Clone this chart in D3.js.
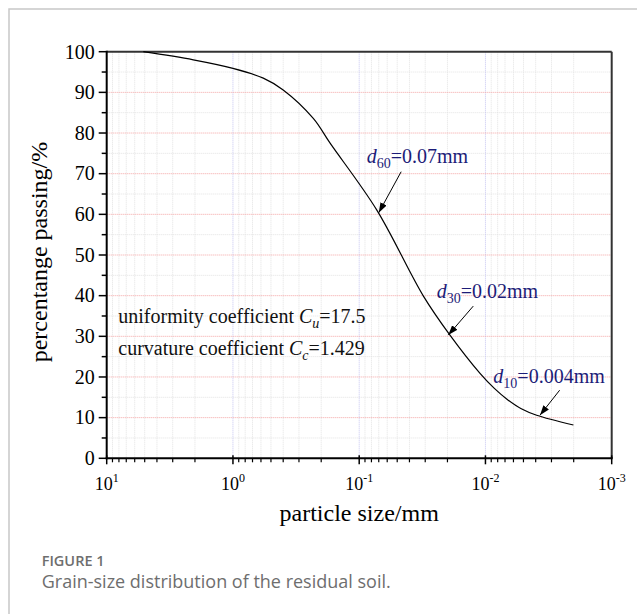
<!DOCTYPE html>
<html>
<head>
  <script src="https://d3js.org/d3.v7.min.js"></script>
  <style>
    body { margin: 0; background: #fff; }
  </style>
</head>
<body>
<div id="chart"></div>
<script>
// grain size curve
const sizes   = [5.13, 2.06, 1.0, 0.575, 0.40, 0.231, 0.170, 0.0727, 0.031, 0.0191, 0.01104, 0.0085, 0.00679, 0.0052, 0.00393, 0.00201];
const passing = [100, 98.0, 95.9, 93.5, 90.6, 83.6, 77.5, 61.1, 39.9, 30.3, 20.9, 17.2, 14.6, 12.2, 10.6, 8.2];

const xTicks = [10, 1, 0.1, 0.01, 0.001];
const xExps = ["1", "0", "-1", "-2", "-3"];
const yTicks = [0, 10, 20, 30, 40, 50, 60, 70, 80, 90, 100];

// characteristic sizes marked with arrows
const markSub   = ["60", "30", "10"];
const markText  = ["=0.07mm", "=0.02mm", "=0.004mm"];
const markSize  = [0.07, 0.0197, 0.0037];
const markPass  = [60.4, 30.3, 10.6];

const coefText = ["uniformity coefficient ", "curvature coefficient "];
const coefSub  = ["u", "c"];
const coefVal  = ["=17.5", "=1.429"];

var SERIF = "'Liberation Serif', 'Times New Roman', Times, serif";
var W = 637, H = 614;
var margin = { top: 51.7, left: 106.7, right: 25.3, bottom: 155.7 };
var width = W - margin.left - margin.right,
    height = H - margin.top - margin.bottom;

var root = d3.select("#chart").append("svg")
  .attr("width", W).attr("height", H)
  .attr("font-family", SERIF);

// page frame
root.append("path")
  .attr("d", "M9,614 V9 H637")
  .attr("fill", "none").attr("stroke", "#c8c8c8").attr("stroke-width", 1.5);

var svg = root.append("g")
  .attr("transform", "translate(" + margin.left + "," + margin.top + ")");

var x = d3.scaleLog().domain([10, 0.001]).range([0, width]);
var y = d3.scaleLinear().domain([0, 100]).range([height, 0]);

// minor grid
var minorX = [];
[1, 0.1, 0.01, 0.001].forEach(function(dec) {
  for (var k = 2; k <= 9; k++) minorX.push(dec * k);
});
svg.append("g").selectAll("line").data(minorX).join("line")
  .attr("x1", d => x(d)).attr("x2", d => x(d))
  .attr("y1", 0).attr("y2", height)
  .attr("stroke", "#e2e2e2").attr("stroke-width", 1).attr("stroke-dasharray", "1,1");

svg.append("g").selectAll("line").data(d3.range(5, 100, 10)).join("line")
  .attr("x1", 0).attr("x2", width)
  .attr("y1", d => y(d)).attr("y2", d => y(d))
  .attr("stroke", "#e2e2e2").attr("stroke-width", 1).attr("stroke-dasharray", "1,1");

// major grid
svg.append("g").selectAll("line").data([1, 0.1, 0.01]).join("line")
  .attr("x1", d => x(d)).attr("x2", d => x(d))
  .attr("y1", 0).attr("y2", height)
  .attr("stroke", "#c4c4f0").attr("stroke-width", 1).attr("stroke-dasharray", "1,1");

svg.append("g").selectAll("line").data(d3.range(10, 100, 10)).join("line")
  .attr("x1", 0).attr("x2", width)
  .attr("y1", d => y(d)).attr("y2", d => y(d))
  .attr("stroke", "#f4a4a4").attr("stroke-width", 1).attr("stroke-dasharray", "1,1");

// frame top/right
svg.append("line").attr("x1", 0).attr("x2", width).attr("y1", 0).attr("y2", 0)
  .attr("stroke", "#333").attr("stroke-width", 2);
svg.append("line").attr("x1", width).attr("x2", width).attr("y1", 0).attr("y2", height)
  .attr("stroke", "#333").attr("stroke-width", 2);

// y axis
var yAxis = svg.append("g");
yAxis.append("line").attr("x1", 0).attr("x2", 0).attr("y1", -1).attr("y2", height + 1)
  .attr("stroke", "#000").attr("stroke-width", 2);
yAxis.selectAll(".maj").data(yTicks).join("line")
  .attr("x1", -8).attr("x2", 0)
  .attr("y1", d => y(d)).attr("y2", d => y(d))
  .attr("stroke", "#000").attr("stroke-width", 1.5);
yAxis.selectAll(".min").data(d3.range(5, 100, 10)).join("line")
  .attr("x1", -5).attr("x2", 0)
  .attr("y1", d => y(d)).attr("y2", d => y(d))
  .attr("stroke", "#000").attr("stroke-width", 1.5);
yAxis.selectAll("text").data(yTicks).join("text")
  .attr("x", -12).attr("y", d => y(d)).attr("dy", "0.34em")
  .attr("text-anchor", "end")
  .attr("font-family", SERIF).attr("font-size", 20)
  .text(d => d);

// x axis
var xAxis = svg.append("g").attr("transform", "translate(0," + height + ")");
xAxis.append("line").attr("x1", -1).attr("x2", width + 1).attr("y1", 0).attr("y2", 0)
  .attr("stroke", "#000").attr("stroke-width", 2);
xAxis.selectAll(".maj").data(xTicks).join("line")
  .attr("x1", d => x(d)).attr("x2", d => x(d))
  .attr("y1", -3).attr("y2", 6)
  .attr("stroke", "#000").attr("stroke-width", 1.5);
xAxis.selectAll(".min").data(minorX).join("line")
  .attr("x1", d => x(d)).attr("x2", d => x(d))
  .attr("y1", 0).attr("y2", 4)
  .attr("stroke", "#000").attr("stroke-width", 1.2);
var xl = xAxis.selectAll("text").data(xTicks).join("text")
  .attr("x", d => x(d)).attr("y", 32)
  .attr("text-anchor", "middle")
  .attr("font-family", SERIF).attr("font-size", 18);
xl.append("tspan").text("10");
xl.append("tspan").attr("dy", -8).attr("font-size", 12).text((d, i) => xExps[i]);

// axis titles
svg.append("text")
  .attr("transform", "translate(" + (47 - margin.left) + "," + (252 - margin.top) + ") rotate(-90)")
  .attr("text-anchor", "middle").attr("font-size", 24)
  .text("percentange passing/%");
svg.append("text")
  .attr("x", width / 2).attr("y", 521 - margin.top)
  .attr("text-anchor", "middle").attr("font-size", 24)
  .text("particle size/mm");

// curve
var pts = sizes.map((d, i) => [x(d), y(passing[i])]);
svg.append("path")
  .attr("d", d3.line().curve(d3.curveCatmullRom.alpha(0.5))(pts))
  .attr("fill", "none").attr("stroke", "#000").attr("stroke-width", 1.2);

// coefficients
var coefY = [323.3, 355];
coefText.forEach(function(t, i) {
  var tx = svg.append("text")
    .attr("x", 118.3 - margin.left).attr("y", coefY[i] - margin.top)
    .attr("font-size", 20).attr("fill", "#111");
  tx.append("tspan").text(t);
  tx.append("tspan").attr("font-style", "italic").text("C");
  tx.append("tspan").attr("dy", 5).attr("font-style", "italic").attr("font-size", 14).text(coefSub[i]);
  tx.append("tspan").attr("dy", -5).text(coefVal[i]);
});

// arrows + labels
root.append("defs").append("marker")
  .attr("id", "ah").attr("viewBox", "0 0 10 10")
  .attr("refX", 10).attr("refY", 5)
  .attr("markerWidth", 10).attr("markerHeight", 10)
  .attr("markerUnits", "userSpaceOnUse")
  .attr("orient", "auto")
  .append("path").attr("d", "M0,1.5 L10,5 L0,8.5 Z").attr("fill", "#000");

var tailOff = [[22.4, -41], [25, -29], [19.7, -25]];
var labelOff = [[-12, -49.4], [-11.6, -36.7], [-46.6, -31.7]];
markSub.forEach(function(s, i) {
  var tx0 = x(markSize[i]), ty0 = y(markPass[i]);
  svg.append("line")
    .attr("x1", tx0 + tailOff[i][0]).attr("y1", ty0 + tailOff[i][1])
    .attr("x2", tx0).attr("y2", ty0)
    .attr("stroke", "#000").attr("stroke-width", 1)
    .attr("marker-end", "url(#ah)");
  var t = svg.append("text")
    .attr("x", tx0 + labelOff[i][0]).attr("y", ty0 + labelOff[i][1])
    .attr("font-size", 20).attr("fill", "#1c1c78");
  t.append("tspan").attr("font-style", "italic").text("d");
  t.append("tspan").attr("dy", 5).attr("font-size", 14).text(s);
  t.append("tspan").attr("dy", -5).text(markText[i]);
});

// caption
root.append("text")
  .attr("x", 41.7).attr("y", 566)
  .attr("font-family", "'Open Sans', sans-serif").attr("font-size", 14.5)
  .attr("font-weight", 600).attr("fill", "#6e6e6e")
  .text("FIGURE 1");
root.append("text")
  .attr("x", 41.7).attr("y", 588)
  .attr("font-family", "'Open Sans', sans-serif").attr("font-size", 18)
  .attr("fill", "#6e6e6e")
  .text("Grain-size distribution of the residual soil.");
</script>
</body>
</html>
